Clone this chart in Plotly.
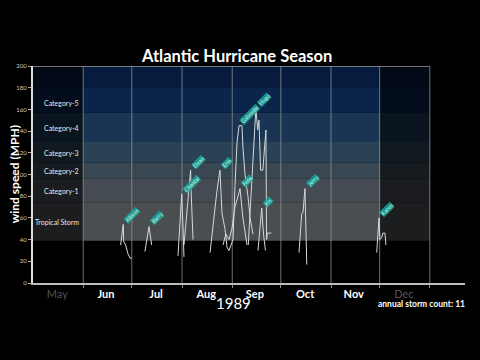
import pandas as pd
import plotly.graph_objects as go

# ---------------- data ----------------
season_year = 1989
season_start = "1989-05-01"
month_labels = ["May", "Jun", "Jul", "Aug", "Sep", "Oct", "Nov", "Dec"]
month_mid = ["1989-05-16", "1989-06-15", "1989-07-16", "1989-08-16",
             "1989-09-15", "1989-10-16", "1989-11-15", "1989-12-16"]
inactive_months = ["May", "Dec"]

category_names = ["Tropical Storm", "Category-1", "Category-2", "Category-3", "Category-4", "Category-5"]
category_low = [39, 74, 96, 111, 130, 157]
category_high = [74, 96, 111, 130, 157, 200]
category_label_mph = [56, 85, 103, 120, 143, 166]

storm_names = ["Allison", "Barry", "Chantal", "Dean", "Erin", "Felix",
               "Gabrielle", "Hugo", "Iris", "Jerry", "Karen"]
# days since May 1, wind speed (MPH)
allison_day = [54.1, 55.7, 56.0, 57.2, 58.6, 59.9, 61.1]
allison_mph = [35, 54, 38, 35, 27, 23, 23]
barry_day = [69.1, 70.4, 71.6, 72.5, 73.3]
barry_mph = [29, 40, 52, 43, 35]
chantal_day = [89.5, 90.6, 91.8, 92.5, 93.2]
chantal_mph = [25, 55, 82, 55, 24]
dean_day = [93.2, 95.5, 97.3, 97.6, 98.8]
dean_mph = [35, 70, 104, 85, 40]
erin_day = [109.3, 111.1, 113.4, 115.4, 116.7, 118.5, 119.8, 121.0]
erin_mph = [28, 55, 83, 104, 64, 50, 33, 30]
felix_day = [117.3, 119.1, 121.0, 122.8, 124.7, 127.8, 129.6, 132.1]
felix_mph = [35, 45, 40, 50, 70, 87, 60, 35]
gabrielle_day = [121.0, 123.5, 124.7, 126.0, 127.2, 129.0, 129.6, 130.9, 132.7, 134.0, 135.8]
gabrielle_mph = [30, 40, 90, 130, 145, 145, 125, 100, 80, 60, 45]
hugo_day = [132.9, 135.0, 137.6, 138.7, 139.5, 140.5, 141.9, 143.8, 144.2, 144.7, 147.2]
hugo_mph = [35, 95, 161, 141, 150, 104, 104, 141, 40, 46, 46]
iris_day = [138.9, 141.2, 142.3, 143.5]
iris_mph = [30, 69, 45, 30]
jerry_day = [164.2, 165.9, 166.7, 167.9, 169.0]
jerry_mph = [28, 64, 65, 87, 17]
karen_day = [212.2, 213.0, 213.6, 214.2, 215.3, 216.0, 217.3, 217.9]
karen_mph = [28, 45, 60, 40, 42, 46, 46, 35]

storm_days = [allison_day, barry_day, chantal_day, dean_day, erin_day, felix_day,
              gabrielle_day, hugo_day, iris_day, jerry_day, karen_day]
storm_mph = [allison_mph, barry_mph, chantal_mph, dean_mph, erin_mph, felix_mph,
             gabrielle_mph, hugo_mph, iris_mph, jerry_mph, karen_mph]

# ---------------- styles ----------------
band_colors = ["#4b4e51", "#444b52", "#394753", "#2a4255", "#193553", "#0b2449"]
top_band_color = "#071b3e"
FONT = "Lato"

t0 = pd.Timestamp(season_start)
def to_date(days):
    return t0 + pd.to_timedelta(days, unit="D")

x_end = to_date(266.7)
active_start = pd.Timestamp("1989-06-01")
active_end = pd.Timestamp("1989-12-01")
season_end = pd.Timestamp("1990-01-01")

fig = go.Figure()

shapes = []
for lo, hi, col in zip(category_low, category_high, band_colors):
    shapes.append(dict(type="rect", xref="x", yref="y", x0=t0, x1=season_end,
                       y0=lo, y1=hi, fillcolor=col, line_width=0, layer="below"))
shapes.append(dict(type="rect", xref="x", yref="y", x0=t0, x1=season_end,
                   y0=180, y1=200, fillcolor=top_band_color, line_width=0, layer="below"))
shapes.append(dict(type="rect", xref="x", yref="y", x0=t0, x1=active_start,
                   y0=0, y1=200, fillcolor="rgba(0,0,0,0.62)", line_width=0, layer="below"))
shapes.append(dict(type="rect", xref="x", yref="y", x0=active_end, x1=season_end,
                   y0=0, y1=200, fillcolor="rgba(0,0,0,0.62)", line_width=0, layer="below"))
for m in pd.date_range("1989-06-01", "1990-01-01", freq="MS"):
    shapes.append(dict(type="line", xref="x", yref="y", x0=m, x1=m, y0=0, y1=200,
                       line=dict(color="rgba(150,150,150,0.75)", width=1), layer="between"))
shapes.append(dict(type="line", xref="x", yref="y", x0=t0, x1=season_end, y0=200, y1=200,
                   line=dict(color="#999999", width=1.5), layer="between"))

for name, d, v in zip(storm_names, storm_days, storm_mph):
    fig.add_trace(go.Scatter(x=to_date(d), y=v, mode="lines", name=name,
                             line=dict(color="#d8d8d8", width=1), hoverinfo="skip"))

annotations = []
for name, d, v in zip(storm_names, storm_days, storm_mph):
    i = v.index(max(v))
    annotations.append(dict(x=to_date(d[i]), y=v[i], xref="x", yref="y", text=name,
                            showarrow=False, textangle=-45, xanchor="left", yanchor="bottom",
                            bgcolor="rgba(28,160,148,0.88)", borderpad=0,
                            font=dict(family=FONT, size=5.5, color="#c8fff4")))

for name, ym in zip(category_names, category_label_mph):
    annotations.append(dict(x=active_start - pd.Timedelta(days=1.5), y=ym, xref="x", yref="y",
                            text=name, showarrow=False, xanchor="right", yanchor="middle",
                            font=dict(family=FONT, size=7, color="#e6e6e6")))

annotations += [
    dict(text="<b>Atlantic Hurricane Season</b>", x=0.472, y=1.046, xref="paper", yref="paper",
         showarrow=False, xanchor="center", yanchor="middle",
         font=dict(family=FONT, size=16.5, color="white")),
    dict(text=str(season_year), x=0.463, y=-0.09, xref="paper", yref="paper",
         showarrow=False, xanchor="center", yanchor="middle",
         font=dict(family=FONT, size=15, color="white")),
    dict(text=f"<b>annual storm count: {len(storm_names)}</b>", x=1.005, y=-0.097,
         xref="paper", yref="paper", showarrow=False, xanchor="right", yanchor="middle",
         font=dict(family=FONT, size=8.5, color="white")),
    dict(text="<b>wind speed (MPH)</b>", x=-0.042, y=0.5, xref="paper", yref="paper",
         showarrow=False, textangle=-90, xanchor="center", yanchor="middle",
         font=dict(family=FONT, size=12, color="white")),
]

ticktext = [f"<span style='color:#555555'>{m}</span>" if m in inactive_months else f"<b>{m}</b>"
            for m in month_labels]

fig.update_layout(
    width=480, height=360,
    paper_bgcolor="black", plot_bgcolor="black",
    margin=dict(l=33, r=15, t=66, b=77),
    showlegend=False,
    shapes=shapes, annotations=annotations,
    font=dict(family=FONT, color="white"),
    xaxis=dict(type="date", range=[t0, x_end], tickmode="array", tickvals=month_mid,
               ticktext=ticktext, ticks="", showgrid=False, zeroline=False,
               showline=True, linecolor="#bbbbbb", linewidth=2,
               tickfont=dict(family=FONT, size=11, color="white"),
               minor=dict(tickmode="array",
                          tickvals=list(pd.date_range("1989-06-01", "1990-01-01", freq="MS")),
                          ticks="outside", ticklen=3, tickcolor="#888888", showgrid=False)),
    yaxis=dict(range=[0, 200], dtick=20, ticks="outside", ticklen=3, tickcolor="#aaaaaa",
               showgrid=False, zeroline=False, showline=True, linecolor="#dddddd", linewidth=2,
               tickfont=dict(family=FONT, size=6, color="#cccccc")),
)

fig.write_html("out.html", config={"displayModeBar": False},
               post_script="document.body.style.margin='0';document.body.style.overflow='hidden';document.body.style.background='black';")
